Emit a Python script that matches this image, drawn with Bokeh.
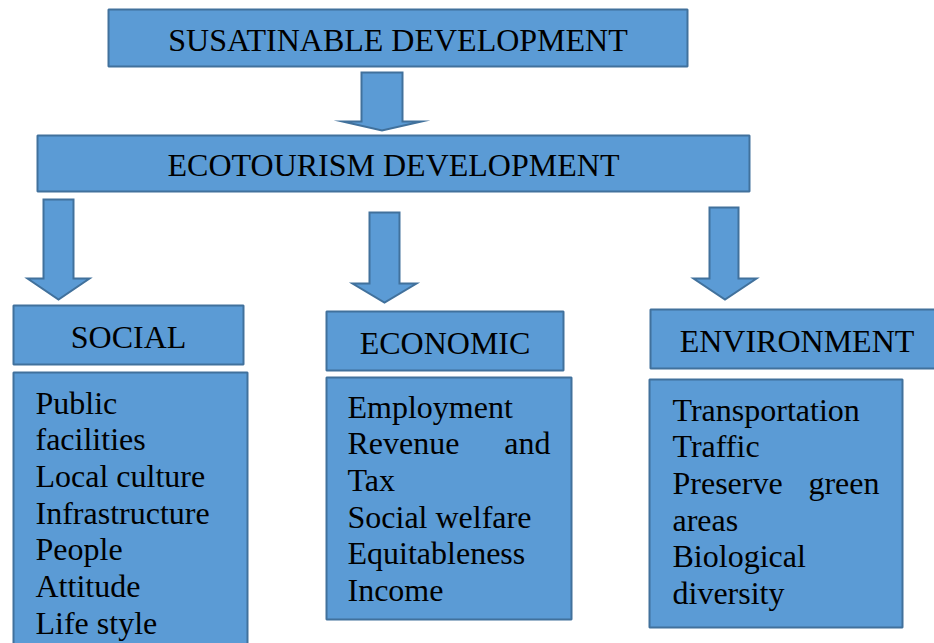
from bokeh.plotting import figure
from bokeh.models import Range1d, ColumnDataSource
from bokeh.core.properties import value
from bokeh.embed import file_html
from bokeh.resources import INLINE

# ---------------- data (texts) ----------------
title_top = "SUSATINABLE DEVELOPMENT"
title_mid = "ECOTOURISM DEVELOPMENT"
categories = ["SOCIAL", "ECONOMIC", "ENVIRONMENT"]
social_items = [["Public", "facilities"], ["Local culture"], ["Infrastructure"],
                ["People"], ["Attitude"], ["Life style"]]
economic_items = [["Employment"], ["Revenue and", "Tax"], ["Social welfare"],
                  ["Equitableness"], ["Income"]]
environment_items = [["Transportation"], ["Traffic"], ["Preserve green", "areas"],
                     ["Biological", "diversity"]]
category_items = [social_items, economic_items, environment_items]

# ---------------- layout (reference pixel coordinates) ----------------
FILL = "#5B9BD5"
EDGE = "#41719C"
FONT = value("Liberation Serif")
FS = "32px"

top_box = (108, 687, 9, 66)          # left, right, top, bottom
mid_box = (37, 749, 135, 191)
cat_boxes = [(13, 243, 305, 364), (326, 563, 311, 370), (650, 943, 309, 368)]
content_boxes = [(13, 247, 372, 660), (326, 571, 377, 619), (649, 902, 379, 627)]
content_inset = [22, 21, 23]
first_offset = [41, 40, 41]
line_step = 36.7
header_drop = 12.5
text_shift = -11   # correction of the renderer's baseline placement

# arrows: shaft_left, shaft_right, shaft_top, head_left, head_right, head_top, tip_y
arrows = [(361, 402, 72, 342, 421, 121, 130),
          (43, 73, 199, 27, 89, 278, 299),
          (369, 399, 212, 352, 416, 283, 302),
          (709, 738, 207, 693, 756, 278, 299)]

W, H = 934, 643
p = figure(width=W, height=H, x_range=Range1d(0, W), y_range=Range1d(H, 0),
           output_backend="svg", toolbar_location=None,
           x_axis_type=None, y_axis_type=None, min_border=0)
p.grid.visible = False
p.outline_line_color = None
p.background_fill_color = "white"
p.border_fill_color = "white"

boxes = [top_box, mid_box] + cat_boxes + content_boxes
bsrc = ColumnDataSource(dict(left=[b[0] for b in boxes], right=[b[1] for b in boxes],
                             top=[b[2] for b in boxes], bottom=[b[3] for b in boxes]))
p.quad(left="left", right="right", top="top", bottom="bottom", source=bsrc,
       fill_color=FILL, line_color=EDGE, line_width=2)

xs, ys = [], []
for sl, sr, st, hl, hr, ht, tip in arrows:
    tx = (hl + hr) / 2
    xs.append([sl, sr, sr, hr, tx, hl, sl])
    ys.append([st, st, ht, ht, tip, ht, ht])
p.patches(xs, ys, fill_color=FILL, line_color=EDGE, line_width=2, line_join="miter")

# centered header texts
hx, hy, ht_ = [], [], []
for label, b in zip([title_top, title_mid] + categories, [top_box, mid_box] + cat_boxes):
    hx.append((b[0] + b[1]) / 2)
    hy.append((b[2] + b[3]) / 2 + header_drop + text_shift)
    ht_.append(label)
p.text(x=hx, y=hy, text=ht_, text_font=FONT, text_font_size=FS, text_align="center",
       text_baseline="alphabetic", text_color="black")

# content lines (justified like the source document)
lx, ly, lt, rx, ry, rt = [], [], [], [], [], []
for items, b, ins, off in zip(category_items, content_boxes, content_inset, first_offset):
    left_x = b[0] + ins
    right_x = b[1] - ins
    i = 0
    for item in items:
        for j, line in enumerate(item):
            y = b[2] + off + i * line_step + text_shift
            words = line.split()
            if j < len(item) - 1 and len(words) > 1:
                lx.append(left_x); ly.append(y); lt.append(" ".join(words[:-1]))
                rx.append(right_x); ry.append(y); rt.append(words[-1])
            else:
                lx.append(left_x); ly.append(y); lt.append(line)
            i += 1
p.text(x=lx, y=ly, text=lt, text_font=FONT, text_font_size=FS, text_align="left",
       text_baseline="alphabetic", text_color="black")
p.text(x=rx, y=ry, text=rt, text_font=FONT, text_font_size=FS, text_align="right",
       text_baseline="alphabetic", text_color="black")

open("out.html", "w").write(file_html(p, INLINE))
